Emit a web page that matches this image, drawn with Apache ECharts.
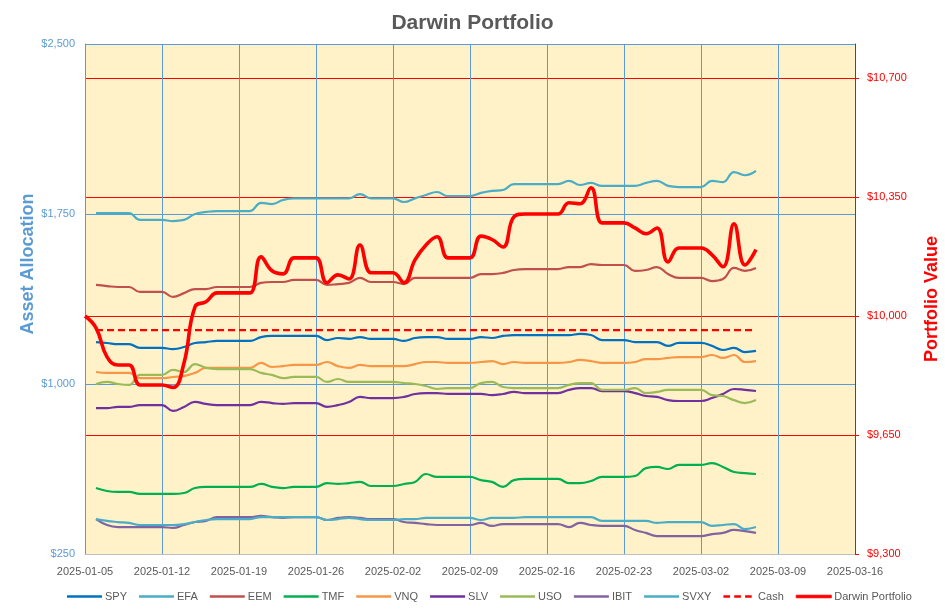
<!DOCTYPE html>
<html><head><meta charset="utf-8">
<script src="https://cdn.jsdelivr.net/npm/echarts@6/dist/echarts.min.js"></script>
<style>html,body{margin:0;padding:0;background:#fff}#c{width:945px;height:615px}</style>
</head><body><div id="c"></div>
<script>
const dates = [
'2025-01-05','2025-01-06','2025-01-07','2025-01-08','2025-01-09','2025-01-10','2025-01-11',
'2025-01-12','2025-01-13','2025-01-14','2025-01-15','2025-01-16','2025-01-17','2025-01-18',
'2025-01-19','2025-01-20','2025-01-21','2025-01-22','2025-01-23','2025-01-24','2025-01-25',
'2025-01-26','2025-01-27','2025-01-28','2025-01-29','2025-01-30','2025-01-31','2025-02-01',
'2025-02-02','2025-02-03','2025-02-04','2025-02-05','2025-02-06','2025-02-07','2025-02-08',
'2025-02-09','2025-02-10','2025-02-11','2025-02-12','2025-02-13','2025-02-14','2025-02-15',
'2025-02-16','2025-02-17','2025-02-18','2025-02-19','2025-02-20','2025-02-21','2025-02-22',
'2025-02-23','2025-02-24','2025-02-25','2025-02-26','2025-02-27','2025-02-28','2025-03-01',
'2025-03-02','2025-03-03','2025-03-04','2025-03-05','2025-03-06','2025-03-07'];

const xTickLabels = ['2025-01-05','2025-01-12','2025-01-19','2025-01-26','2025-02-02','2025-02-09',
'2025-02-16','2025-02-23','2025-03-02','2025-03-09','2025-03-16'];
const leftTicks = [250, 1000, 1750, 2500];
const rightTicks = [9300, 9650, 10000, 10350, 10700];

const SPY = [null,1185,1181,1176,1176,1159,1159,1159,1154,1163,1181,1185,1190,1190,1190,1190,1207,1212,1212,1212,1212,1212,1194,1203,1199,1207,1199,1199,1199,1190,1203,1207,1207,1199,1199,1199,1207,1203,1212,1216,1216,1216,1216,1216,1216,1221,1216,1194,1194,1194,1185,1185,1185,1168,1181,1181,1181,1168,1150,1159,1141,1146];
const EFA = [null,1754,1754,1754,1754,1724,1724,1724,1719,1724,1750,1759,1763,1763,1763,1763,1799,1794,1812,1819,1819,1819,1819,1819,1819,1838,1819,1819,1819,1803,1819,1834,1847,1829,1829,1829,1843,1852,1856,1882,1882,1882,1882,1882,1896,1878,1887,1874,1874,1874,1874,1887,1896,1874,1869,1869,1869,1896,1891,1935,1921,1940];
const EEM = [null,1437,1432,1428,1428,1406,1406,1406,1384,1401,1419,1419,1428,1428,1428,1428,1446,1450,1450,1459,1459,1459,1437,1441,1446,1468,1450,1450,1450,1441,1468,1468,1468,1468,1468,1468,1485,1485,1490,1503,1507,1507,1507,1507,1516,1516,1529,1525,1525,1525,1499,1503,1516,1485,1468,1468,1468,1454,1463,1512,1499,1512];
const TMF = [null,541,528,524,524,515,515,515,515,519,541,546,546,546,546,546,559,546,541,546,546,546,563,559,563,568,550,550,550,559,568,603,590,590,590,590,576,568,546,576,581,581,581,581,563,563,572,590,590,590,594,629,634,625,643,643,643,651,634,612,607,603];
const VNQ = [null,1053,1049,1049,1049,1026,1026,1026,1031,1035,1049,1071,1071,1071,1071,1071,1093,1075,1079,1084,1084,1084,1097,1079,1071,1084,1079,1079,1079,1079,1088,1097,1097,1093,1093,1093,1097,1101,1088,1097,1093,1093,1093,1093,1097,1106,1101,1093,1093,1093,1097,1110,1110,1115,1119,1119,1119,1128,1115,1128,1097,1101];
const SLV = [null,894,894,899,899,907,907,907,881,899,921,912,907,907,907,907,921,916,912,916,916,916,899,907,921,943,938,938,938,943,956,960,960,956,956,956,956,951,956,965,960,960,960,960,974,982,982,969,969,969,960,947,943,929,925,925,925,938,956,978,974,969];
const USO = [null,1000,1009,1000,996,1040,1040,1040,1062,1053,1088,1071,1066,1066,1066,1066,1049,1040,1026,1031,1031,1031,1009,1022,1009,1009,1009,1009,1009,1004,1000,991,978,982,982,982,1004,1009,987,982,982,982,982,982,996,1004,1004,974,974,974,982,960,965,974,974,974,974,951,947,929,916,929];
const IBIT = [null,404,378,369,369,369,369,369,365,378,391,396,413,413,413,413,418,413,409,413,413,413,400,409,413,409,404,404,404,391,387,382,378,378,378,378,387,374,382,382,382,382,382,382,369,387,378,374,374,374,356,343,329,329,329,329,329,338,343,356,351,343];
const SVXY = [null,404,396,391,387,378,378,378,378,382,391,400,404,404,404,404,413,413,413,413,413,413,400,404,409,404,400,400,400,404,404,409,409,409,409,409,400,409,409,409,413,413,413,413,413,413,413,396,396,396,396,396,387,391,391,391,391,374,378,382,360,369];
const Cash = [null,1238,1238,1238,1238,1238,1238,1238,1238,1238,1238,1238,1238,1238,1238,1238,1238,1238,1238,1238,1238,1238,1238,1238,1238,1238,1238,1238,1238,1238,1238,1238,1238,1238,1238,1238,1238,1238,1238,1238,1238,1238,1238,1238,1238,1238,1238,1238,1238,1238,1238,1238,1238,1238,1238,1238,1238,1238,1238,1238,1238,1238];
const Darwin = [10000,9965,9880,9856,9856,9797,9797,9797,9790,9862,10027,10042,10068,10068,10068,10068,10174,10133,10124,10171,10171,10171,10098,10121,10109,10209,10127,10127,10127,10098,10165,10209,10233,10171,10171,10171,10235,10225,10203,10292,10300,10300,10300,10300,10333,10330,10377,10274,10274,10274,10259,10242,10259,10159,10200,10200,10200,10180,10145,10271,10150,10195];

const DAY = 86400000;
const t0 = Date.parse(xTickLabels[0]);
const dayOf = s => Math.round((Date.parse(s) - t0) / DAY);
const pairs = arr => dates.map((d, i) => [dayOf(d), arr[i]]);
const money = v => '$' + Math.round(v).toLocaleString('en-US');
const FONT = "'Liberation Sans', Arial, sans-serif";

const assets = [
  ['SPY', SPY, '#0070C0'], ['EFA', EFA, '#4BACC6'], ['EEM', EEM, '#C0504D'],
  ['TMF', TMF, '#00B050'], ['VNQ', VNQ, '#F79646'], ['SLV', SLV, '#7030A0'],
  ['USO', USO, '#9BBB59'], ['IBIT', IBIT, '#8064A2'], ['SVXY', SVXY, '#4BACC6']
];
const series = assets.map(([name, arr, color]) => ({
  name, type: 'line', yAxisIndex: 0, data: pairs(arr), smooth: 0.45,
  symbol: 'none', showSymbol: false, color,
  lineStyle: { width: 2.2, color }
}));
series.push({
  name: 'Cash', type: 'line', yAxisIndex: 0, data: pairs(Cash), symbol: 'none',
  color: '#FF0000', lineStyle: { width: 2.2, type: [7, 4], color: '#FF0000' }
});
series.push({
  name: 'Darwin Portfolio', type: 'line', yAxisIndex: 1, data: pairs(Darwin), smooth: 0.45,
  symbol: 'none', color: '#FF0000', lineStyle: { width: 3.6, color: '#FF0000' }, z: 5
});

const legendNames = ['SPY','EFA','EEM','TMF','VNQ','SLV','USO','IBIT','SVXY','Cash','Darwin Portfolio'];
const legendData = legendNames.map(n => {
  if (n === 'Cash') return { name: n, icon: 'path://M0,0h8v3h-8zM13,0h8v3h-8zM26,0h8v3h-8z' };
  if (n === 'Darwin Portfolio') return { name: n, icon: 'rect', itemStyle: { borderWidth: 1, borderColor: '#FF0000' } };
  return { name: n, icon: 'rect' };
});

const chart = echarts.init(document.getElementById('c'), null, { renderer: 'canvas' });
chart.setOption({
  animation: false,
  backgroundColor: '#ffffff',
  textStyle: { fontFamily: FONT },
  title: {
    text: 'Darwin Portfolio', left: 'center', top: 8,
    textStyle: { fontSize: 21, fontWeight: 'bold', color: '#595959', fontFamily: FONT }
  },
  grid: {
    left: 85, right: 90, top: 44, bottom: 61,
    outerBoundsMode: 'none', containLabel: false,
    show: true, backgroundColor: '#FFF2C8', borderWidth: 0
  },
  legend: {
    bottom: 8, left: 62, itemWidth: 35, itemHeight: 2.5, itemGap: 12,
    textStyle: { color: '#595959', fontSize: 11, fontFamily: FONT, padding: [0, 0, 0, -2] },
    data: legendData
  },
  xAxis: {
    type: 'value', min: 0, max: dayOf(xTickLabels[xTickLabels.length - 1]), interval: 7,
    axisLine: { show: true, onZero: false, lineStyle: { color: '#BFBFBF', width: 1 } },
    axisTick: { show: false },
    axisLabel: {
      color: '#595959', fontSize: 11, margin: 12, fontFamily: FONT,
      formatter: v => xTickLabels[Math.round(v / 7)] || ''
    },
    splitLine: { show: true, lineStyle: { color: '#5B9BD5', width: 1 } }
  },
  yAxis: [
    {
      type: 'value', position: 'left', min: 250, max: 2500, interval: 750,
      name: 'Asset Allocation', nameLocation: 'middle', nameGap: 48, nameRotate: 90,
      nameMoveOverlap: false,
      nameTextStyle: { color: '#5B9BD5', fontSize: 18, fontWeight: 'bold', fontFamily: FONT, padding: [0, 0, 0, 70] },
      axisLine: { show: true, lineStyle: { color: '#5B9BD5', width: 1 } },
      axisTick: { show: false },
      axisLabel: { color: '#5B9BD5', fontSize: 11, margin: 10, formatter: money, fontFamily: FONT },
      splitLine: { show: true, showMinLine: false, lineStyle: { color: '#5B9BD5', width: 1 } }
    },
    {
      type: 'value', position: 'right', min: 9300, max: 10800, interval: 350,
      name: 'Portfolio Value', nameLocation: 'middle', nameGap: 68, nameRotate: 90,
      nameMoveOverlap: false,
      nameTextStyle: { color: '#FF0000', fontSize: 18, fontWeight: 'bold', fontFamily: FONT },
      axisLine: { show: true, lineStyle: { color: '#FF0000', width: 1 } },
      axisTick: { show: true, length: 4, lineStyle: { color: '#FF0000' } },
      axisLabel: { color: '#FF0000', fontSize: 11, margin: 12, formatter: money, showMaxLabel: false, fontFamily: FONT },
      splitLine: { show: true, showMinLine: false, showMaxLine: false, lineStyle: { color: '#FF0000', width: 1 } }
    }
  ],
  series
});
</script></body></html>
